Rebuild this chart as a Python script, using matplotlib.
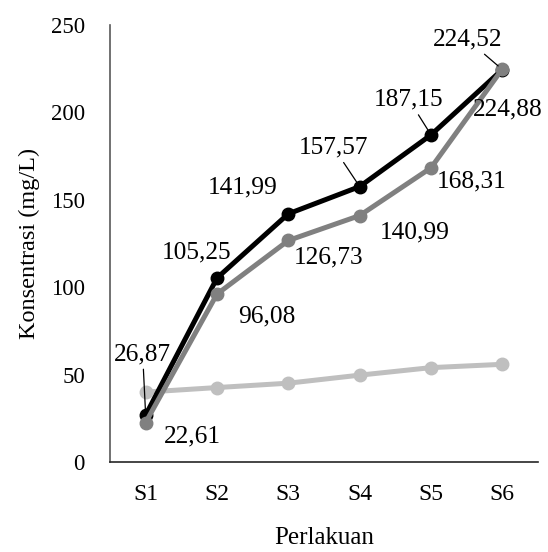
import matplotlib
matplotlib.use("Agg")
import matplotlib.pyplot as plt

plt.rcParams['font.family'] = ['Liberation Serif', 'DejaVu Serif']

categories = ["S1", "S2", "S3", "S4", "S5", "S6"]
black_vals = [26.87, 105.25, 141.99, 157.57, 187.15, 224.52]
gray_vals = [22.61, 96.08, 126.73, 140.99, 168.31, 224.88]
light_vals = [40.0, 42.6, 45.1, 49.7, 54.0, 55.9]
yticks = [0, 50, 100, 150, 200, 250]

# label offsets in pixels (dx, dy) and whether a leader line is drawn
black_offsets = [(-3, 61, True), (-20, 26, False), (-46, 26, False),
                 (-26, 39, True), (-22, 35, True), (-35, 30, True)]
gray_offsets = [(47, -14), (50, -22), (40, -17), (55, -17), (41, -14), (5, -41)]

fig = plt.figure(figsize=(5.48, 5.52), dpi=100)
ax = fig.add_axes([0.2007, 0.163, 0.7811, 0.7917])

x = list(range(len(categories)))
ax.plot(x, light_vals, color='#bfbfbf', lw=3.6, marker='o', ms=9, zorder=2)
ax.plot(x, black_vals, color='black', lw=3.6, marker='o', ms=9, zorder=3)
ax.plot(x, gray_vals, color='#808080', lw=3.6, marker='o', ms=9, zorder=4)

def fmt(v):
    return f"{v:.2f}".replace('.', ',')

lbl_size = 18.3
for xi, v, (dx, dy, line) in zip(x, black_vals, black_offsets):
    if line:
        ax.annotate(fmt(v), (xi, v), xytext=(dx, dy), textcoords='offset pixels',
                    ha='center', va='center', fontsize=lbl_size,
                    arrowprops=dict(arrowstyle='-', color='black', lw=0.9,
                                    shrinkA=1, shrinkB=4), zorder=6)
    else:
        ax.annotate(fmt(v), (xi, v), xytext=(dx, dy), textcoords='offset pixels',
                    ha='center', va='center', fontsize=lbl_size, zorder=6)

for xi, v, (dx, dy) in zip(x, gray_vals, gray_offsets):
    ax.annotate(fmt(v), (xi, v), xytext=(dx, dy), textcoords='offset pixels',
                ha='center', va='center', fontsize=lbl_size, zorder=6)

ax.set_xlim(-0.5, len(categories) - 0.5)
ax.set_ylim(0, 250)
ax.set_yticks(yticks)
ax.set_xticks(x)
ax.set_xticklabels(categories)
ax.tick_params(axis='both', length=0)
ax.tick_params(axis='y', pad=18, labelsize=16.5)
ax.tick_params(axis='x', pad=16, labelsize=17)

ax.spines['top'].set_visible(False)
ax.spines['right'].set_visible(False)
ax.spines['left'].set_color('#595959')
ax.spines['bottom'].set_color('#262626')
ax.spines['left'].set_linewidth(1.2)
ax.spines['bottom'].set_linewidth(1.2)

ax.set_xlabel("Perlakuan", fontsize=18, labelpad=16)
ax.set_ylabel("Konsentrasi (mg/L)", fontsize=17.5, labelpad=8)

fig.savefig("out.png", dpi=100)
